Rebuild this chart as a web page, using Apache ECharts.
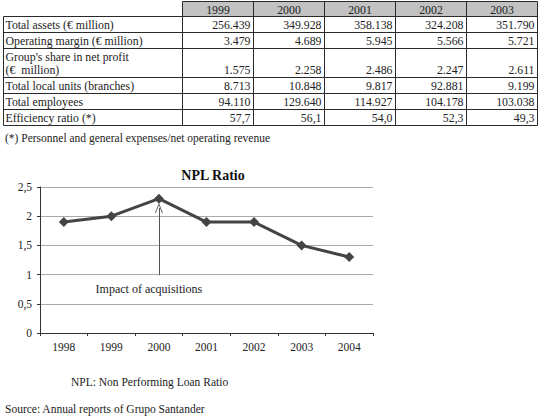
<!DOCTYPE html>
<html>
<head>
<meta charset="utf-8">
<script src="https://cdn.jsdelivr.net/npm/echarts@6/dist/echarts.min.js"></script>
<style>
html,body{margin:0;padding:0;background:#fff;}
#main{width:540px;height:420px;}
</style>
</head>
<body>
<div id="main"></div>
<script>
// ---- Table data ----
var tableYears = ['1999', '2000', '2001', '2002', '2003'];
var rowLabels = [
  'Total assets (€ million)',
  'Operating margin (€ million)',
  "Group's share in net profit\n(€  million)",
  'Total local units (branches)',
  'Total employees',
  'Efficiency ratio (*)'
];
var totalAssets = ['256.439', '349.928', '358.138', '324.208', '351.790'];
var operatingMargin = ['3.479', '4.689', '5.945', '5.566', '5.721'];
var netProfitShare = ['1.575', '2.258', '2.486', '2.247', '2.611'];
var localUnits = ['8.713', '10.848', '9.817', '92.881', '9.199'];
var employees = ['94.110', '129.640', '114.927', '104.178', '103.038'];
var efficiencyRatio = ['57,7', '56,1', '54,0', '52,3', '49,3'];

// ---- Chart data ----
var nplTitle = 'NPL Ratio';
var nplYears = ['1998', '1999', '2000', '2001', '2002', '2003', '2004'];
var nplValues = [1.9, 2.0, 2.3, 1.9, 1.9, 1.5, 1.3];
var annotationText = 'Impact of acquisitions';
var annotationYear = '2000';
var footnoteTable = '(*) Personnel and general expenses/net operating revenue';
var footnoteChart = 'NPL: Non Performing Loan Ratio';
var sourceText = 'Source: Annual reports of Grupo Santander';

(function () {
  var tableRows = [totalAssets, operatingMargin, netProfitShare, localUnits, employees, efficiencyRatio];
  var FONT = "'Liberation Serif', 'Times New Roman', Times, serif";
  var FS = '11.5px ';
  var FT = '11.8px ';
  var tableLeft = 3.5, labelColRight = 182.5, colW = 71, tableRight = 537.5;
  var rowHeights = [15, 16, 16, 29, 16, 16, 16];
  var tableTop = 1.5;
  var lineColor = '#2a2a2a';
  var textColor = '#222';

  var g = [];
  var rowY = [tableTop];
  for (var i = 0; i < rowHeights.length; i++) rowY.push(rowY[i] + rowHeights[i]);
  var colX = [labelColRight];
  for (var c = 0; c < tableYears.length; c++) colX.push(c === tableYears.length - 1 ? tableRight : colX[c] + colW);

  g.push({type: 'rect', shape: {x: labelColRight, y: rowY[0], width: tableRight - labelColRight, height: rowY[1] - rowY[0]},
    style: {fill: '#c2c2c2'}});
  for (var r = 0; r < rowY.length; r++) {
    var x1 = r === 0 ? labelColRight : tableLeft;
    g.push({type: 'line', shape: {x1: x1, y1: rowY[r], x2: tableRight, y2: rowY[r]}, style: {stroke: lineColor, lineWidth: 1}});
  }
  g.push({type: 'line', shape: {x1: tableLeft, y1: rowY[1], x2: tableLeft, y2: rowY[rowY.length - 1]}, style: {stroke: lineColor, lineWidth: 1}});
  for (var c2 = 0; c2 < colX.length; c2++) {
    g.push({type: 'line', shape: {x1: colX[c2], y1: rowY[0], x2: colX[c2], y2: rowY[rowY.length - 1]}, style: {stroke: lineColor, lineWidth: 1}});
  }
  for (var c3 = 0; c3 < tableYears.length; c3++) {
    g.push({type: 'text', style: {text: tableYears[c3], x: (colX[c3] + colX[c3 + 1]) / 2, y: (rowY[0] + rowY[1]) / 2 + 0.5,
      align: 'center', verticalAlign: 'middle', font: FT + FONT, fill: textColor}});
  }
  for (var r2 = 0; r2 < rowLabels.length; r2++) {
    var yTop = rowY[r2 + 1], yBot = rowY[r2 + 2];
    var multi = rowLabels[r2].indexOf('\n') >= 0;
    if (multi) {
      g.push({type: 'text', style: {text: rowLabels[r2], x: tableLeft + 2, y: yTop + 2, align: 'left', verticalAlign: 'top',
        lineHeight: 13, font: FT + FONT, fill: textColor}});
    } else {
      g.push({type: 'text', style: {text: rowLabels[r2], x: tableLeft + 2, y: (yTop + yBot) / 2 + 0.5, align: 'left', verticalAlign: 'middle',
        font: FT + FONT, fill: textColor}});
    }
    for (var c4 = 0; c4 < tableYears.length; c4++) {
      g.push({type: 'text', style: {text: tableRows[r2][c4], x: colX[c4 + 1] - 3, y: multi ? yBot - 7.5 : (yTop + yBot) / 2 + 0.5,
        align: 'right', verticalAlign: 'middle', font: FT + FONT, fill: textColor}});
    }
  }
  g.push({type: 'text', style: {text: footnoteTable, x: 5, y: 138, align: 'left', verticalAlign: 'middle', font: FS + FONT, fill: textColor}});
  g.push({type: 'text', style: {text: nplTitle, x: 213, y: 175, align: 'center', verticalAlign: 'middle', font: 'bold 14px ' + FONT, fill: '#111'}});
  g.push({type: 'text', style: {text: footnoteChart, x: 71, y: 382, align: 'left', verticalAlign: 'middle', font: FS + FONT, fill: textColor}});
  g.push({type: 'text', style: {text: sourceText, x: 5, y: 409, align: 'left', verticalAlign: 'middle', font: FS + FONT, fill: textColor}});

  var chart = echarts.init(document.getElementById('main'), null, {renderer: 'svg'});
  chart.setOption({
    animation: false,
    backgroundColor: '#fff',
    textStyle: {fontFamily: FONT},
    grid: {left: 40, right: 167, top: 187, bottom: 87, containLabel: false},
    xAxis: {
      type: 'category',
      data: nplYears,
      boundaryGap: true,
      axisLine: {lineStyle: {color: '#333', width: 1}},
      axisTick: {show: true, interval: 0, length: 3, lineStyle: {color: '#333'}},
      axisLabel: {color: textColor, fontSize: 11.5, fontFamily: FONT, margin: 8, interval: 0},
      splitLine: {show: false}
    },
    yAxis: {
      type: 'value',
      min: 0, max: 2.5, interval: 0.5,
      axisLine: {show: true, lineStyle: {color: '#333', width: 1}},
      axisTick: {show: true, length: 3, lineStyle: {color: '#333'}},
      axisLabel: {color: textColor, fontSize: 11.5, fontFamily: FONT, margin: 8,
        formatter: function (v) { return String(v).replace('.', ','); }},
      splitLine: {show: true, lineStyle: {color: '#aaaaaa', width: 1}}
    },
    series: [{
      type: 'line',
      data: nplValues,
      symbol: 'diamond',
      symbolSize: 10,
      lineStyle: {color: '#444', width: 3},
      itemStyle: {color: '#444'},
      markLine: {
        silent: true,
        symbol: ['none', 'path://M0,10 L5,0 L10,10 L8.8,10 L5,2.2 L1.2,10 Z'],
        symbolSize: [8, 10],
        lineStyle: {color: '#555', width: 1, type: 'solid'},
        label: {show: false},
        data: [[{coord: [annotationYear, 0.99]}, {coord: [annotationYear, 2.14]}]]
      },
      markPoint: {
        silent: true,
        symbol: 'rect',
        symbolSize: 0,
        label: {show: true, position: 'inside', offset: [-10, 0], color: textColor, fontSize: 12, fontFamily: FONT,
          formatter: annotationText},
        data: [{coord: [annotationYear, 0.75]}]
      }
    }],
    graphic: {elements: g}
  });
})();
</script>
</body>
</html>
